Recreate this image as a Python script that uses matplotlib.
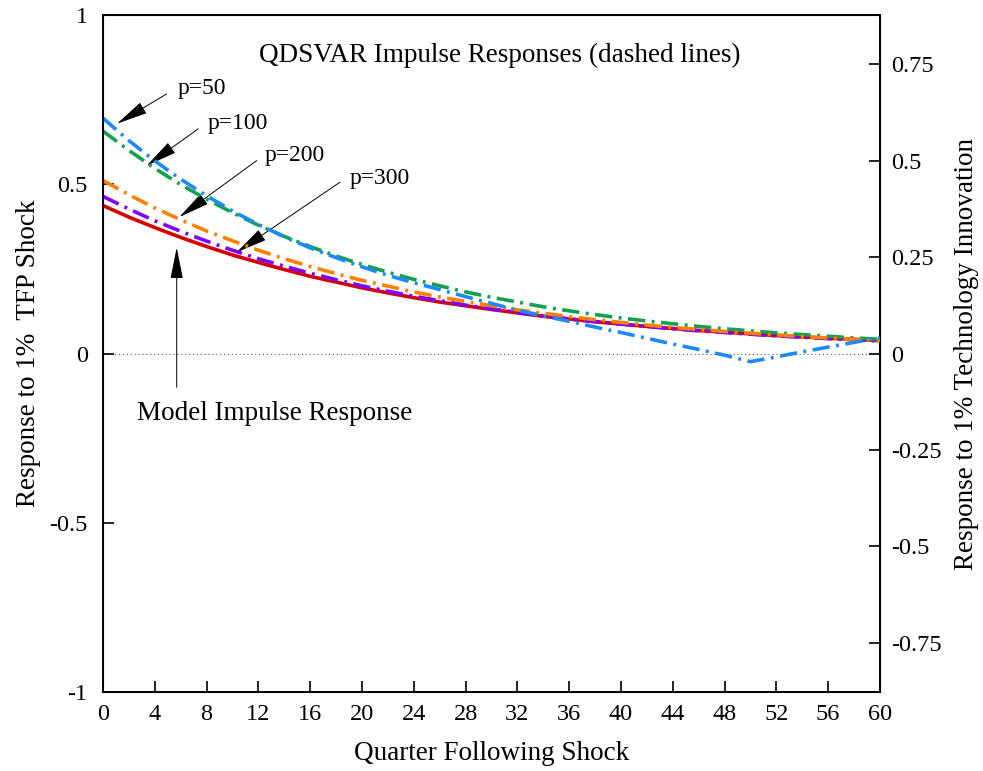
import numpy as np
import matplotlib.pyplot as plt

plt.rcParams['font.family'] = ['Liberation Serif', 'DejaVu Serif']
plt.rcParams['axes.unicode_minus'] = False

# Quarters after the shock
quarters = np.arange(0, 62, 2)

# Model impulse response (solid red)
model = [0.437, 0.403, 0.372, 0.343, 0.316, 0.291, 0.269, 0.248, 0.228, 0.211,
         0.194, 0.179, 0.165, 0.152, 0.141, 0.130, 0.120, 0.110, 0.102, 0.094,
         0.087, 0.080, 0.074, 0.068, 0.063, 0.058, 0.053, 0.049, 0.045, 0.042, 0.038]

# QDSVAR impulse responses (dash-dot)
p300 = [0.464, 0.427, 0.392, 0.361, 0.332, 0.305, 0.280, 0.258, 0.237, 0.218,
        0.200, 0.184, 0.169, 0.156, 0.143, 0.132, 0.121, 0.111, 0.102, 0.094,
        0.087, 0.080, 0.073, 0.067, 0.062, 0.057, 0.052, 0.048, 0.044, 0.041, 0.037]
p200 = [0.511, 0.469, 0.430, 0.395, 0.362, 0.333, 0.305, 0.280, 0.257, 0.236,
        0.216, 0.199, 0.182, 0.167, 0.154, 0.141, 0.129, 0.119, 0.109, 0.100,
        0.092, 0.084, 0.077, 0.071, 0.065, 0.060, 0.055, 0.050, 0.046, 0.042, 0.039]
p100 = [0.657, 0.600, 0.547, 0.499, 0.456, 0.416, 0.379, 0.346, 0.316, 0.288,
        0.263, 0.240, 0.219, 0.200, 0.182, 0.166, 0.152, 0.138, 0.126, 0.115,
        0.105, 0.096, 0.088, 0.080, 0.073, 0.067, 0.061, 0.056, 0.051, 0.046, 0.042]
p50 = [0.695, 0.629, 0.569, 0.515, 0.466, 0.421, 0.381, 0.345, 0.312, 0.283,
       0.256, 0.231, 0.209, 0.189, 0.168, 0.148, 0.128, 0.111, 0.095, 0.078,
       0.062, 0.045, 0.028, 0.012, -0.005, -0.024, -0.010, 0.005, 0.019, 0.033, 0.047]

fig = plt.figure(figsize=(9.83, 7.71), dpi=100)
ax = fig.add_axes([0.1048, 0.1025, 0.7904, 0.878])

dash = (4.8, 1.8, 0.8, 1.8)
ax.axhline(0, color='#555555', lw=0.8, ls=(0, (1, 2.5)), zorder=1)
ax.plot(quarters, model, color='#d40000', lw=2.6, zorder=3)
ax.plot(quarters, p300, color='#8000ff', lw=2.6, dashes=dash, zorder=4)
ax.plot(quarters, p200, color='#ff8000', lw=2.6, dashes=dash, zorder=5)
ax.plot(quarters, p100, color='#10a050', lw=2.6, dashes=dash, zorder=4)
ax.plot(quarters, p50, color='#1e88ff', lw=2.6, dashes=dash, zorder=5)

ax.set_xlim(0, 60)
ax.set_ylim(-1, 1)
ax.set_xticks(np.arange(0, 61, 4))
ax.set_yticks([-1, -0.5, 0, 0.5, 1])
ax.set_yticklabels(['-1', '-0.5', '0', '0.5', '1'])
ax.tick_params(direction='in', length=8, width=1.2, labelsize=17.5, pad=11)
ax.tick_params(axis='x', pad=9)
for s in ax.spines.values():
    s.set_linewidth(1.4)
ax.set_xlabel('Quarter Following Shock', fontsize=19.5, labelpad=11)
ax.set_ylabel('Response to 1%  TFP Shock', fontsize=19.5, labelpad=6)

ax2 = ax.twinx()
ax2.set_ylim(-0.878, 0.878)
ax2.set_yticks([-0.75, -0.5, -0.25, 0, 0.25, 0.5, 0.75])
ax2.set_yticklabels(['-0.75', '-0.5', '-0.25', '0', '0.25', '0.5', '0.75'])
ax2.tick_params(direction='in', length=8, width=1.2, labelsize=17.5, pad=8)
ax2.set_ylabel('Response to 1% Technology Innovation', fontsize=19.5, labelpad=9)

# annotations
ax.text(30.6, 0.88, 'QDSVAR Impulse Responses (dashed lines)', fontsize=19.5,
        ha='center', va='center')
arrow = dict(arrowstyle='-|>,head_length=0.9,head_width=0.18', color='black',
             lw=0.7, mutation_scale=22, shrinkA=0, shrinkB=0)
labels = [('p=50', (5.79, 0.783), (4.92, 0.767), (1.08, 0.679)),
          ('p=100', (8.11, 0.679), (7.36, 0.664), (3.37, 0.555)),
          ('p=200', (12.5, 0.585), (11.87, 0.570), (5.89, 0.403)),
          ('p=300', (19.07, 0.517), (18.3, 0.506), (10.32, 0.299))]
for txt, tpos, tail, tip in labels:
    ax.text(tpos[0], tpos[1], txt, fontsize=17, ha='left', va='center')
    ax.annotate('', xy=tip, xytext=tail, arrowprops=arrow)
ax.annotate('', xy=(5.69, 0.313), xytext=(5.69, -0.10), arrowprops=arrow)
ax.text(2.63, -0.177, 'Model Impulse Response', fontsize=19.5, ha='left', va='center')

fig.savefig('out.png', dpi=100)
